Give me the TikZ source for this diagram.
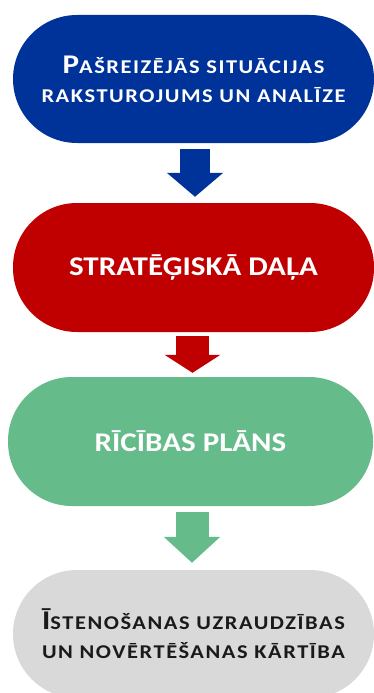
\documentclass[tikz,border=0pt]{standalone}
\usepackage{fontspec}
\setmainfont{Carlito}[FakeStretch=1.15]
\usetikzlibrary{arrows.meta}
\definecolor{cblue}{RGB}{0,51,153}
\definecolor{cred}{RGB}{192,0,0}
\definecolor{cgreen}{RGB}{101,187,138}
\definecolor{cgray}{RGB}{217,217,217}
\definecolor{ctext}{RGB}{26,26,26}
\newcommand{\fakesc}[1]{{\fontsize{19.5}{29}\selectfont\addfontfeatures{LetterSpace=8}#1}}
\begin{document}
\begin{tikzpicture}[x=1pt,y=-1pt,
  stadium/.style={rectangle, rounded corners=64pt, minimum height=128pt, inner sep=0pt, align=center,
    font=\fontsize{27}{29}\selectfont\bfseries}]
\useasboundingbox (0,0) rectangle (374,693);
\clip (0,0) rectangle (374,693);
\node[stadium, fill=cblue, text=white, minimum width=361pt] (b1) at (193.5,79)
  {P\fakesc{AŠREIZĒJĀS SITUĀCIJAS}\\ \fakesc{RAKSTUROJUMS UN ANALĪZE}};
\node[stadium, fill=cred, text=white, minimum width=361pt, minimum height=129pt] (b2) at (193.5,267.5)
  {STRATĒĢISKĀ DAĻA};
\node[stadium, fill=cgreen, text=white, minimum width=365pt, minimum height=129pt] (b3) at (190.5,441.5)
  {RĪCĪBAS PLĀNS};
\node[stadium, fill=cgray, text=ctext, minimum width=361pt] (b4) at (193.5,634)
  {Ī\fakesc{STENOŠANAS UZRAUDZĪBAS}\\ \fakesc{UN NOVĒRTĒŠANAS KĀRTĪBA}};
\draw[cblue, line width=30pt, -{Triangle[width=55pt,length=24pt]}]
  ([shift={(1.5,6)}]b1.south) -- ([shift={(1.5,-6)}]b2.north);
\draw[cred, line width=33pt, -{Triangle[width=55pt,length=18pt]}]
  ([shift={(-1,4)}]b2.south) -- ([shift={(2,-4)}]b3.north);
\draw[cgreen, line width=33pt, -{Triangle[width=55pt,length=26pt]}]
  ([shift={(1.5,6)}]b3.south) -- ([shift={(-1.5,-7)}]b4.north);
\end{tikzpicture}
\end{document}
